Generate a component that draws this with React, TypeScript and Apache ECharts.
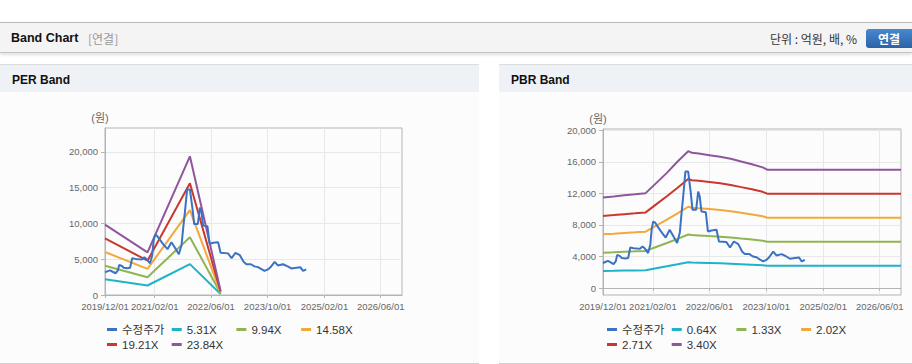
import React, { useEffect, useRef } from 'react';
import * as echarts from 'echarts';

const FONT = "'Liberation Sans', 'Noto Sans CJK KR', sans-serif";

const AXIS_START = '2019/12/01';
const AXIS_END = '2026/12/01';
const X_TICKS = ['2019/12/01', '2021/02/01', '2022/06/01', '2023/10/01', '2025/02/01', '2026/06/01'];

const PRICE_NAME = '수정주가';
const PRICE_DATES = [
  '2019/12/01', '2019/12/20', '2020/01/13', '2020/02/05', '2020/03/01', '2020/03/20', '2020/04/01',
  '2020/04/25', '2020/05/10', '2020/06/10', '2020/07/04', '2020/07/22', '2020/08/20', '2020/09/20',
  '2020/10/13', '2020/11/04', '2020/11/25', '2020/12/22', '2021/01/10', '2021/01/22', '2021/02/04',
  '2021/02/20', '2021/03/04', '2021/04/16', '2021/05/22', '2021/06/25', '2021/07/28', '2021/08/28',
  '2021/09/20', '2021/10/05', '2021/10/19', '2021/11/07', '2021/12/01', '2021/12/22', '2022/01/07',
  '2022/02/07', '2022/02/25', '2022/03/10', '2022/03/25', '2022/05/01', '2022/05/19', '2022/06/20',
  '2022/08/01', '2022/08/22', '2022/10/25', '2022/11/25', '2022/12/28', '2023/02/04', '2023/03/10',
  '2023/04/01', '2023/05/10', '2023/06/10', '2023/07/10', '2023/08/13', '2023/09/04', '2023/10/04',
  '2023/10/25', '2023/12/01', '2023/12/28', '2024/02/10', '2024/03/22', '2024/04/22', '2024/06/04',
  '2024/07/10', '2024/08/01', '2024/08/28',
];
const PRICE_VALUES = [
  3160, 3300, 3450, 3250, 3040, 3400, 4200,
  4050, 3800, 3750, 3800, 5140, 5050, 5000,
  4980, 5270, 5000, 4430, 5500, 7500, 8430,
  8300, 8010, 7090, 6400, 7380, 6530, 5700,
  7000, 9500, 11600, 14760, 14760, 12230, 9910,
  9910, 12230, 11600, 9700, 9620, 7170, 7300,
  7380, 5900, 5820, 5140, 5900, 5570, 4600,
  4300, 4300, 4000, 3900, 3580, 3370, 3580,
  3870, 4630, 4130, 4300, 4000, 3710, 3800,
  3870, 3370, 3580,
];

// PER band
const PER_DATES = ['2019/12/01', '2020/12/01', '2021/12/01', '2022/08/22'];
const PER_NAMES = ['5.31X', '9.94X', '14.58X', '19.21X', '23.84X'];
const PER_531 = [2190, 1330, 4320, 130];
const PER_994 = [4100, 2490, 8080, 250];
const PER_1458 = [6010, 3650, 11860, 360];
const PER_1921 = [7910, 4800, 15620, 480];
const PER_2384 = [9830, 5960, 19390, 600];
const PER_Y_TICKS = [0, 5000, 10000, 15000, 20000];

// PBR band
const PBR_DATES = [
  '2019/12/01', '2020/03/01', '2020/06/01', '2020/09/01', '2020/12/01', '2021/03/01', '2021/06/01',
  '2021/09/01', '2021/12/01', '2022/01/01', '2022/03/01', '2022/06/01', '2022/09/01', '2022/12/01',
  '2023/03/01', '2023/06/01', '2023/09/01', '2023/10/10', '2026/12/01',
];
const PBR_NAMES = ['0.64X', '1.33X', '2.02X', '2.71X', '3.40X'];
const PBR_064 = [2159, 2184, 2212, 2236, 2264, 2504, 2748, 3002, 3266, 3228, 3210, 3172, 3134, 3087, 3021, 2956, 2880, 2826, 2826];
const PBR_133 = [4487, 4538, 4596, 4647, 4706, 5203, 5711, 6239, 6787, 6709, 6670, 6591, 6513, 6416, 6279, 6142, 5985, 5872, 5872];
const PBR_202 = [6815, 6892, 6981, 7058, 7147, 7902, 8674, 9476, 10308, 10189, 10130, 10011, 9892, 9744, 9536, 9328, 9090, 8918, 8918];
const PBR_271 = [9144, 9247, 9366, 9469, 9588, 10602, 11637, 12713, 13829, 13669, 13591, 13431, 13271, 13073, 12794, 12515, 12195, 11965, 11965];
const PBR_340 = [11470, 11600, 11750, 11880, 12030, 13300, 14600, 16050, 17350, 17150, 17050, 16850, 16650, 16400, 16050, 15700, 15300, 15010, 15010];
const PBR_Y_TICKS = [0, 4000, 8000, 12000, 16000, 20000];

const COLORS = ['#3b72c3', '#1eb3c7', '#8fb552', '#f2a83a', '#c9372d', '#8f569c'];

const t = (s: string) => {
  const [y, m, d] = s.split('/').map(Number);
  return new Date(y, m - 1, d).getTime();
};

type Cfg = {
  left: number; top: number; width: number; height: number;
  yMin: number; yMax: number; yTicks: number[];
  bandDates: string[]; bandNames: string[]; bands: number[][];
  legendLeft: number; legendTop: number;
};

function makeOption(c: Cfg) {
  const names = [PRICE_NAME, ...c.bandNames];
  const bandSeries = c.bands.map((vals, i) => ({
    name: c.bandNames[i],
    type: 'line',
    data: c.bandDates.map((d, j) => [t(d), vals[j]]),
    showSymbol: false,
    symbol: 'none',
    lineStyle: { width: 2, color: COLORS[i + 1] },
    itemStyle: { color: COLORS[i + 1] },
    z: 2,
  }));
  const priceSeries = {
    name: PRICE_NAME,
    type: 'line',
    data: PRICE_DATES.map((d, j) => [t(d), PRICE_VALUES[j]]),
    showSymbol: false,
    symbol: 'none',
    lineStyle: { width: 2, color: COLORS[0] },
    itemStyle: { color: COLORS[0] },
    z: 3,
  };
  return {
    animation: false,
    textStyle: { fontFamily: FONT },
    grid: {
      left: c.left, top: c.top, width: c.width, height: c.height,
      show: true, borderColor: '#b4b4b4', borderWidth: 1, backgroundColor: 'transparent',
    },
    xAxis: {
      type: 'time',
      min: t(AXIS_START),
      max: t(AXIS_END),
      axisLine: { show: true, lineStyle: { color: '#b4b4b4' } },
      axisTick: { show: true, length: 3, customValues: X_TICKS.map(t), lineStyle: { color: '#b4b4b4' } },
      axisLabel: {
        customValues: X_TICKS.map(t),
        formatter: '{yyyy}/{MM}/{dd}',
        color: '#666', fontSize: 9.5, margin: 7, fontFamily: FONT,
        hideOverlap: false,
      },
      splitLine: { show: true, lineStyle: { color: '#e8e8e8' } },
    },
    yAxis: {
      type: 'value',
      min: c.yMin,
      max: c.yMax,
      name: '(원)',
      nameLocation: 'end',
      nameGap: 5,
      nameTextStyle: { color: '#666', fontSize: 11, padding: [0, 10, 0, 0], fontFamily: FONT },
      axisLine: { show: true, lineStyle: { color: '#b4b4b4' } },
      axisTick: { show: true, length: 4, customValues: c.yTicks, lineStyle: { color: '#b4b4b4' } },
      axisLabel: {
        customValues: c.yTicks,
        color: '#666', fontSize: 9.5, margin: 7, fontFamily: FONT,
        formatter: (v: number) => v.toLocaleString('en-US'),
      },
      splitLine: { show: true, lineStyle: { color: '#e8e8e8' } },
    },
    legend: {
      data: names,
      left: c.legendLeft,
      top: c.legendTop,
      width: 270,
      padding: 0,
      itemGap: 0,
      itemWidth: 10,
      itemHeight: 3,
      icon: 'rect',
      textStyle: { color: '#333', fontSize: 11.5, width: 49.7, lineHeight: 15, fontFamily: FONT },
    },
    series: [priceSeries, ...bandSeries],
  };
}

function Chart({ cfg, style }: { cfg: Cfg; style: React.CSSProperties }) {
  const ref = useRef<HTMLDivElement>(null);
  useEffect(() => {
    if (!ref.current) return;
    const chart = echarts.init(ref.current, undefined, { renderer: 'svg' });
    chart.setOption(makeOption(cfg) as any);
    return () => chart.dispose();
  }, []);
  return <div ref={ref} style={style} />;
}

const PER_CFG: Cfg = {
  left: 105, top: 35, width: 297, height: 167,
  yMin: 0, yMax: 23350, yTicks: PER_Y_TICKS,
  bandDates: PER_DATES, bandNames: PER_NAMES,
  bands: [PER_531, PER_994, PER_1458, PER_1921, PER_2384],
  legendLeft: 107, legendTop: 229,
};

const PBR_CFG: Cfg = {
  left: 104, top: 36, width: 298, height: 166,
  yMin: -886, yMax: 20165, yTicks: PBR_Y_TICKS,
  bandDates: PBR_DATES, bandNames: PBR_NAMES,
  bands: [PBR_064, PBR_133, PBR_202, PBR_271, PBR_340],
  legendLeft: 108, legendTop: 229,
};

export default function App() {
  const panelHead: React.CSSProperties = {
    position: 'absolute', top: 64, height: 28, background: '#eef2f7',
    borderTop: '1px solid #dcdcdc', boxSizing: 'border-box',
    fontFamily: FONT, fontWeight: 'bold', fontSize: 12, color: '#111',
    lineHeight: '31px', paddingLeft: 12,
  };
  const panelBody: React.CSSProperties = {
    position: 'absolute', top: 92, height: 272, background: '#fcfcfd',
    borderBottom: '1px solid #d0d0d0', boxSizing: 'border-box',
  };
  return (
    <div style={{ position: 'fixed', left: 0, top: 0, width: 912, height: 364, background: '#fff', overflow: 'hidden', fontFamily: FONT }}>
      {/* top header */}
      <div style={{
        position: 'absolute', left: 0, top: 22, width: 912, height: 31, background: '#f4f4f4',
        borderTop: '1px solid #b8b8b8', borderBottom: '1px solid #c4c4c4', boxSizing: 'border-box',
        boxShadow: '0 2px 3px rgba(0,0,0,0.12)',
      }}>
        <span style={{ position: 'absolute', left: 11, top: 8, fontSize: 12.5, fontWeight: 'bold', color: '#111', lineHeight: '15px' }}>Band Chart</span>
        <span style={{ position: 'absolute', left: 88, top: 8, fontSize: 12, color: '#999', fontFamily: "'Noto Sans CJK KR', sans-serif", lineHeight: '15px' }}>[연결]</span>
        <span style={{ position: 'absolute', left: 770, top: 8, fontSize: 12, color: '#333', fontFamily: "'Noto Sans CJK KR', sans-serif", lineHeight: '15px' }}>단위 : 억원, 배, %</span>
        <div style={{
          position: 'absolute', left: 866, top: 6, width: 52, height: 19, borderRadius: 3,
          background: 'linear-gradient(#4a87cf, #2a62a6)', color: '#fff', fontWeight: 'bold',
          fontSize: 12, fontFamily: "'Noto Sans CJK KR', sans-serif", lineHeight: '19px', paddingLeft: 12, boxSizing: 'border-box',
        }}>연결</div>
      </div>

      {/* PER panel */}
      <div style={{ ...panelHead, left: 0, width: 479 }}>PER Band</div>
      <div style={{ ...panelBody, left: 0, width: 479 }} />
      <Chart cfg={PER_CFG} style={{ position: 'absolute', left: 0, top: 93, width: 479, height: 270 }} />

      {/* PBR panel */}
      <div style={{ ...panelHead, left: 499, width: 413 }}>PBR Band</div>
      <div style={{ ...panelBody, left: 499, width: 413 }} />
      <Chart cfg={PBR_CFG} style={{ position: 'absolute', left: 499, top: 93, width: 413, height: 270 }} />
    </div>
  );
}
